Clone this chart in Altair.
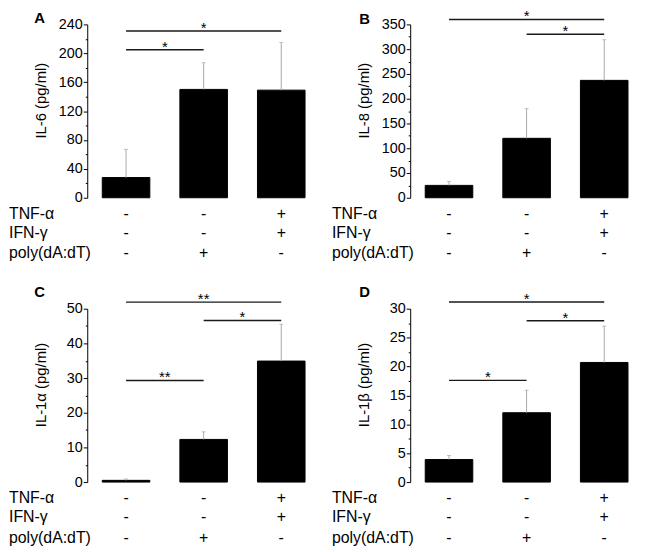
import altair as alt
import pandas as pd

# ---------------- data ----------------
conditions = ["c1", "c2", "c3"]
tnf = ["-", "-", "+"]
ifn = ["-", "-", "+"]
poly = ["-", "+", "-"]
row_labels = ["TNF-α", "IFN-γ", "poly(dA:dT)"]

il6_mean = [28, 150, 149]
il6_top = [67, 187, 215]
il8_mean = [25, 120, 237]
il8_top = [33, 180, 319]
il1a_mean = [0.5, 12.3, 34.9]
il1a_top = [0.9, 14.5, 45.5]
il1b_mean = [3.9, 12.0, 20.7]
il1b_top = [4.6, 15.9, 27.0]

# significance brackets: (from, to, y value, label)
sig_a = [("c1", "c2", 205, "*"), ("c1", "c3", 231, "*")]
sig_b = [("c1", "c3", 360, "*"), ("c2", "c3", 330, "*")]
sig_c = [("c1", "c3", 51.9, "**"), ("c2", "c3", 46.6, "*"), ("c1", "c2", 29.3, "**")]
sig_d = [("c1", "c3", 31.15, "*"), ("c2", "c3", 27.9, "*"), ("c1", "c2", 17.6, "*")]

# ---------------- style ----------------
FONT = "Liberation Sans"
W, H = 235, 175
P_IN, P_OUT = 0.387, 0.1935
STEP = W / (3 - P_IN + 2 * P_OUT)
ROW_Y = [H + 16, H + 35.5, H + 56]


def panel(means, tops, ymax, ystep, title, letter, lxy, sigs):
    d = pd.DataFrame({"cond": conditions, "mean": means, "top": tops,
                      "tnf": tnf, "ifn": ifn, "poly": poly})
    ysc = alt.Scale(domain=[0, ymax], nice=False, zero=True)
    xsc = alt.Scale(domain=conditions, paddingInner=P_IN, paddingOuter=P_OUT)
    major = [ystep * i for i in range(int(round(ymax / ystep)) + 1)]
    minor = [v + ystep / 2 for v in major[:-1]]
    base = alt.Chart(d)

    bars = base.mark_bar(color="black", stroke="black", strokeWidth=1).encode(
        x=alt.X("cond:N", scale=xsc, axis=alt.Axis(
            title=None, labels=False, tickBand="extent", tickSize=3,
            tickColor="black", domainColor="black", domainWidth=1,
            tickWidth=1, grid=False)),
        y=alt.Y("mean:Q", scale=ysc, axis=alt.Axis(
            orient="left", values=major, title=title, tickSize=4,
            labelFontSize=14.5, labelFont=FONT, labelColor="black",
            labelPadding=1, tickColor="black", domainColor="black",
            domainWidth=1, tickWidth=1,
            titleFont=FONT, titleFontSize=15, titleFontWeight="normal",
            titleColor="black", titleX=-47, titleY=76.5,
            titleBaseline="middle", titleAngle=270, grid=False)),
    )
    err = base.mark_rule(color="#a8a8a8", strokeWidth=1).encode(
        x=alt.X("cond:N", scale=xsc, axis=None),
        y=alt.Y("mean:Q", scale=ysc, axis=alt.Axis(
            orient="left", values=minor, labels=False, domain=False,
            tickSize=2, tickColor="black", tickWidth=1, title=None,
            grid=False)),
        y2="top:Q",
    )
    cap = base.mark_tick(color="#a8a8a8", thickness=1, size=4).encode(
        x=alt.X("cond:N", scale=xsc, axis=None),
        y=alt.Y("top:Q", scale=ysc, axis=None),
    )

    sdf = pd.DataFrame(sigs, columns=["c_from", "c_to", "yv", "label"])
    sdf["mid"] = ["c2" if (a == "c1" and b == "c3") else a for a, b in zip(sdf.c_from, sdf.c_to)]
    sdf["span"] = [2 if (a == "c1" and b == "c3") else 1 for a, b in zip(sdf.c_from, sdf.c_to)]
    sbase = alt.Chart(sdf)
    rules = sbase.mark_rule(color="#1a1a1a", strokeWidth=1.5).encode(
        x=alt.X("c_from:N", scale=xsc, axis=None),
        x2="c_to:N",
        y=alt.Y("yv:Q", scale=ysc, axis=None),
    )
    t2 = sbase.transform_filter("datum.span == 2").mark_text(
        font=FONT, fontSize=15, baseline="middle", dy=-3, color="black").encode(
        x=alt.X("mid:N", scale=xsc, axis=None),
        y=alt.Y("yv:Q", scale=ysc, axis=None),
        text="label:N",
    )
    t1 = sbase.transform_filter("datum.span == 1").mark_text(
        font=FONT, fontSize=15, baseline="middle", dy=-3, dx=STEP / 2,
        color="black").encode(
        x=alt.X("c_from:N", scale=xsc, axis=None),
        y=alt.Y("yv:Q", scale=ysc, axis=None),
        text="label:N",
    )

    layers = [bars, err, cap, rules, t2, t1]
    for i, field in enumerate(["tnf", "ifn", "poly"]):
        layers.append(base.mark_text(font=FONT, fontSize=16, baseline="middle",
                                     color="black").encode(
            x=alt.X("cond:N", scale=xsc, axis=None),
            y=alt.value(ROW_Y[i]),
            text=f"{field}:N",
        ))
        layers.append(alt.Chart(pd.DataFrame({"t": [row_labels[i]]})).mark_text(
            font=FONT, fontSize=16, baseline="middle", align="left",
            color="black").encode(
            x=alt.value(-79), y=alt.value(ROW_Y[i]), text="t:N"))
    layers.append(alt.Chart(pd.DataFrame({"t": [letter]})).mark_text(
        font=FONT, fontSize=15, fontWeight="bold", baseline="middle",
        align="center", color="black").encode(
        x=alt.value(lxy[0]), y=alt.value(lxy[1]), text="t:N"))

    return alt.layer(*layers).resolve_axis(y="independent").properties(width=W, height=H)


pa = panel(il6_mean, il6_top, 240, 40, "IL-6 (pg/ml)", "A", (-48, -6), sig_a)
pb = panel(il8_mean, il8_top, 350, 50, "IL-8 (pg/ml)", "B", (-46, -5), sig_b)
pc = panel(il1a_mean, il1a_top, 50, 10, "IL-1α (pg/ml)", "C", (-48, -17), sig_c)
pd_ = panel(il1b_mean, il1b_top, 30, 5, "IL-1β (pg/ml)", "D", (-46, -17), sig_d)

chart = alt.vconcat(
    alt.hconcat(pa, pb, spacing=10),
    alt.hconcat(pc, pd_, spacing=10),
    spacing=22,
).properties(
    padding={"left": 0, "top": -2, "right": 0, "bottom": 0},
    background="white",
).configure(font=FONT).configure_view(stroke="transparent")

chart.save("out.html", embed_options={"renderer": "svg", "actions": False})
